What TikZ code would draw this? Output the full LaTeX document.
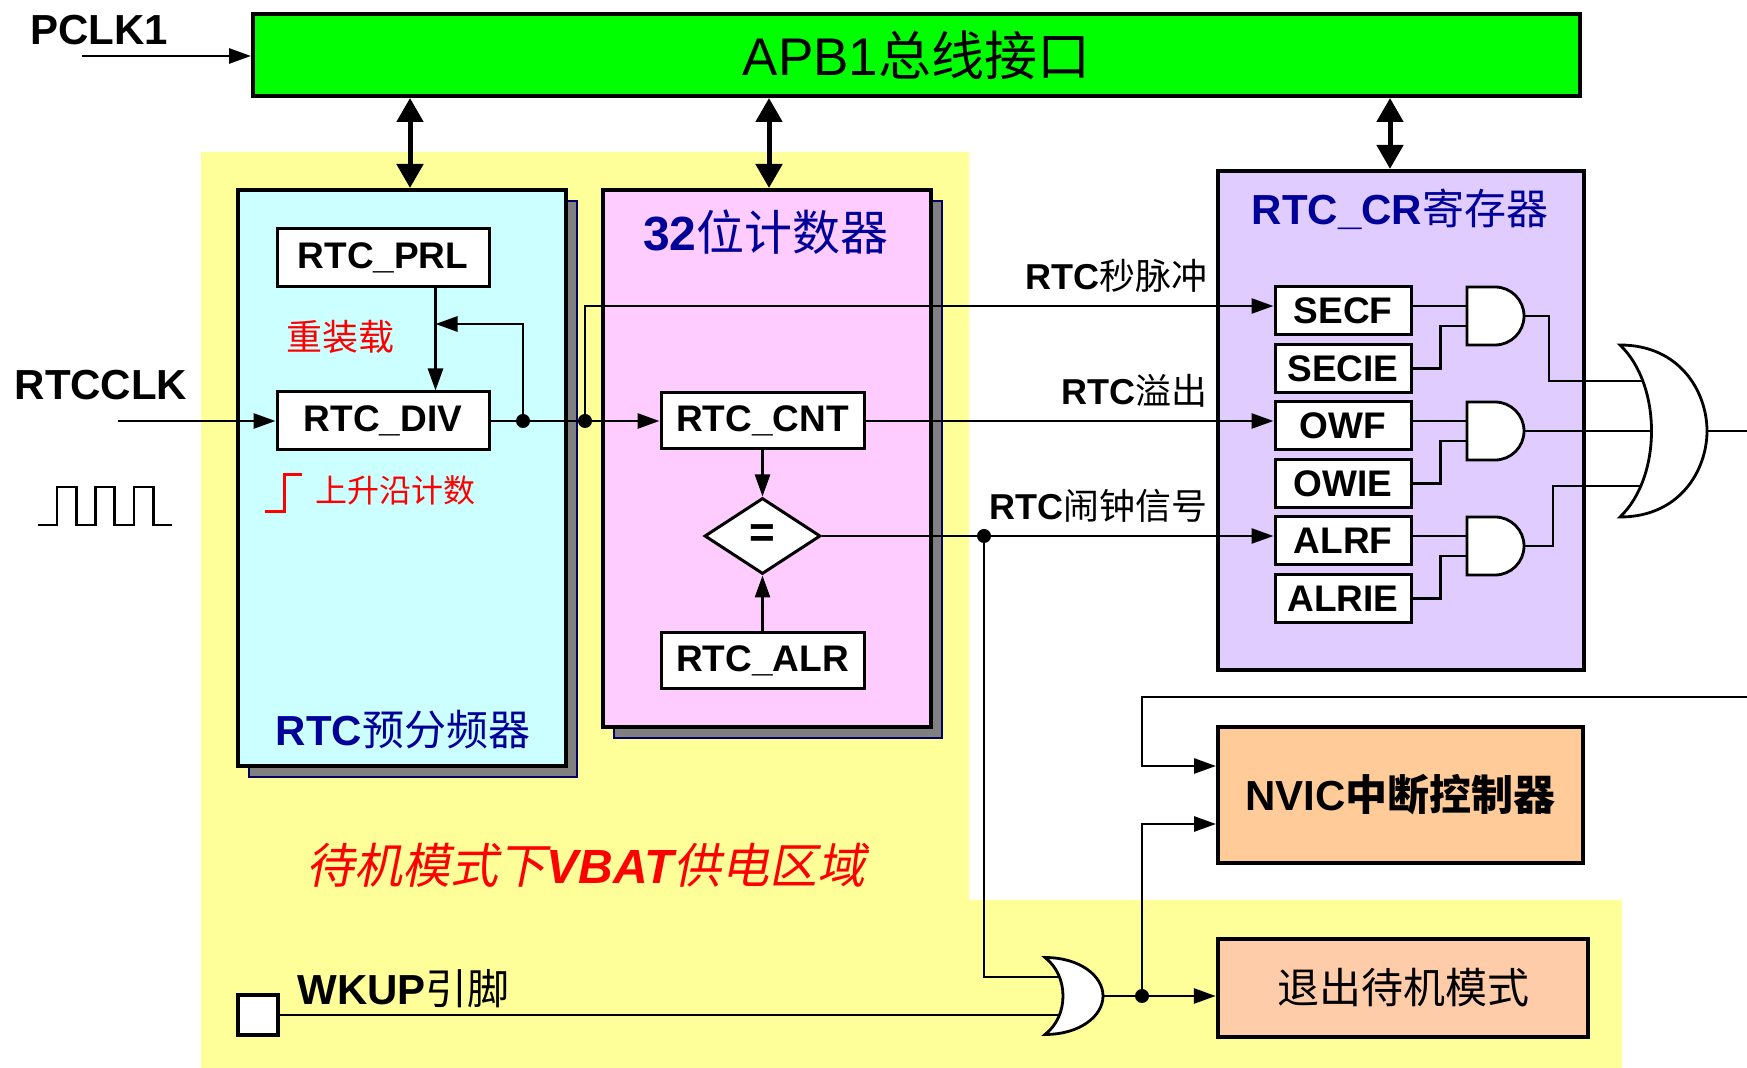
\documentclass[tikz,border=0pt]{standalone}
\usepackage{fontspec}
\setmainfont{Liberation Sans}
\newfontfamily\cjk{Noto Sans CJK SC}
\newfontfamily\cjkit{Noto Sans CJK SC}[FakeSlant=0.2]
\usetikzlibrary{positioning,shapes.geometric,arrows.meta,shadows}
\newcommand{\zhtext}[1]{{\cjk\mdseries #1}}
\newcommand{\zhbold}[1]{{\cjk\bfseries #1}}

\definecolor{vbatyellow}{RGB}{255,255,153}
\definecolor{buscolor}{RGB}{0,255,0}
\definecolor{prescfill}{RGB}{204,255,255}
\definecolor{cntfill}{RGB}{255,204,255}
\definecolor{crfill}{RGB}{224,204,255}
\definecolor{nvicfill}{RGB}{255,204,153}
\definecolor{exitfill}{RGB}{255,204,170}
\definecolor{titleblue}{RGB}{0,0,153}
\definecolor{shadownavy}{RGB}{0,0,102}
\definecolor{shadowgray}{RGB}{128,128,128}

\begin{document}
\begin{tikzpicture}[x=0.5pt, y=-0.5pt,
    wire/.style={line width=1.4pt},
    arr/.style={wire, -{Triangle[length=11pt,width=7.5pt]}},
    bus/.style={line width=2.5pt, {Triangle[length=12pt,width=13pt]}-{Triangle[length=12pt,width=13pt]}},
    panel/.style={draw, line width=2pt, inner sep=0pt},
    boxshadow/.style={drop shadow={shadow xshift=5.5pt, shadow yshift=-5.5pt, fill=shadowgray, draw=shadownavy, line width=1pt, opacity=1}},
    regbox/.style={draw, fill=white, line width=1.5pt, minimum width=106pt, minimum height=29pt, inner sep=0pt, font=\fontsize{18.5}{20}\selectfont\bfseries},
    bitbox/.style={regbox, minimum width=68pt, minimum height=24pt},
    dot/.style={circle, fill, inner sep=0pt, minimum size=7pt},
    gate/.style={draw, fill=white, line width=1.4pt},
    paneltitle/.style={text=titleblue, inner sep=0pt, font=\fontsize{21}{24}\selectfont\bfseries},
    siglabel/.style={inner sep=0pt, font=\fontsize{18}{20}\selectfont\bfseries},
    pinlabel/.style={inner sep=0pt, font=\fontsize{21}{24}\selectfont\bfseries}]

  \useasboundingbox (0,0) rectangle (1747,1068);
  \fill[vbatyellow] (201,152) -- (969,152) -- (969,900) -- (1622,900) -- (1622,1068) -- (201,1068) -- cycle;

  \node[panel, fill=prescfill, boxshadow, minimum width=164pt, minimum height=288pt] (presc) at (402,478) {};
  \node[panel, fill=cntfill, boxshadow, minimum width=164pt, minimum height=268.75pt] (cnt32) at (767,458.75) {};
  \node[panel, fill=crfill, minimum width=183pt, minimum height=249.5pt] (crreg) at (1401,420.4) {};
  \node[panel, fill=nvicfill, minimum width=182.5pt, minimum height=68pt, font=\fontsize{21}{24}\selectfont\bfseries] (nvic) at (1400.5,795) {NVIC\zhbold{中断控制器}};
  \node[panel, fill=exitfill, minimum width=185.25pt, minimum height=48.85pt, font=\fontsize{21}{24}\selectfont] (exitsb) at (1403,988) {\zhtext{退出待机模式}};
  \node[panel, fill=buscolor, minimum width=663.5pt, minimum height=41pt, font=\fontsize{26.5}{30}\selectfont] (apb) at (916.5,55) {APB1\zhtext{总线接口}};

  \node[pinlabel] (pclk) at (99,30) {PCLK1};
  \node[pinlabel] (rtcclk) at (101,385) {RTCCLK};
  \node[paneltitle] (prescname) at (403,730) {RTC\zhtext{预分频器}};
  \node[paneltitle, font=\fontsize{24}{26}\selectfont\bfseries] (cntname) at (766,232) {32\zhtext{位计数器}};
  \node[paneltitle] (crname) at (1400,209) {RTC\_CR\zhtext{寄存器}};

  \node[regbox] (prl) at (383,257.5) {RTC\_PRL};
  \node[regbox] (div) [below=51.25pt of prl] {RTC\_DIV};
  \node[regbox, minimum width=101.5pt, minimum height=28pt] (cnt) at (762.5,421) {RTC\_CNT};
  \node[diamond, draw, fill=white, line width=1.5pt, minimum width=58pt, minimum height=38pt, inner sep=0pt, font=\fontsize{22}{24}\selectfont\bfseries] (eq) at (762.5,536) {=};
  \node[regbox, minimum width=101.5pt, minimum height=28pt] (alr) at (762.5,661) {RTC\_ALR};

  \node[bitbox] (secf) at (1343,311) {SECF};
  \node[bitbox] (secie) [below=3.25pt of secf] {SECIE};
  \node[bitbox] (owf) [below=3.25pt of secie] {OWF};
  \node[bitbox] (owie) [below=3.25pt of owf] {OWIE};
  \node[bitbox] (alrf) [below=3.25pt of owie] {ALRF};
  \node[bitbox] (alrie) [below=3.25pt of alrf] {ALRIE};

  \node[text=red, inner sep=0pt, font=\fontsize{18}{20}\selectfont] (reloadname) at (340,337) {\zhtext{重装载}};
  \node[text=red, inner sep=0pt, font=\fontsize{16}{18}\selectfont, anchor=west] (edgename) at (315,490) {\zhtext{上升沿计数}};
  \draw[red, line width=1.5pt] (265,512) -- (284,512) -- (284,475) -- (302,475);
  \draw[wire] (38,525) \foreach \p in {57,95.5,134} { -- (\p,525) -- (\p,487) -- ++(19.3,0) -- ++(0,38) } -- (172,525);

  \node[siglabel, anchor=base east] (secname) at ([shift={(-33pt,10.75pt)}]secf.west) {RTC\zhtext{秒脉冲}};
  \node[siglabel, anchor=base east] (owname) at ([shift={(-33pt,10.75pt)}]owf.west) {RTC\zhtext{溢出}};
  \node[siglabel, anchor=base east] (alrname) at ([shift={(-33pt,10.75pt)}]alrf.west) {RTC\zhtext{闹钟信号}};

  \node[draw, fill=white, line width=2.2pt, minimum size=20pt, inner sep=0pt] (wkup) at (258,1015) {};
  \node[pinlabel, anchor=west] (wkupname) at (297,989) {WKUP\zhtext{引脚}};
  \node[text=red, inner sep=0pt, font=\fontsize{24}{28}\selectfont] (vbatname) at (586,865) {{\cjkit 待机模式下}{\bfseries\itshape VBAT}{\cjkit 供电区域}};

  \node[dot] (d1) at (523,421) {};
  \node[dot] (d2) at (585,421) {};
  \node[dot] (d3) at (984,536) {};
  \node[dot] (d4) at (1142,996) {};

  \coordinate (pclkin) at (82,56);
  \coordinate (clkin) at (118,421);
  \coordinate (reload) at (435.5,324);
  \coordinate (busa) at ([xshift=4pt]presc.north);
  \coordinate (busb) at ([xshift=1pt]cnt32.north);
  \coordinate (busc) at ([xshift=-5.5pt]crreg.north);
  \coordinate (g1) at ([shift={(27.25pt,-2.5pt)}]secf.east);
  \coordinate (g2) at ([shift={(27.25pt,-2.5pt)}]owf.east);
  \coordinate (g3) at ([shift={(27.25pt,-2.5pt)}]alrf.east);
  \coordinate (orb) at (1620,431);
  \coordinate (orend) at (1747,431);
  \coordinate (irqin) at (1747,697);
  \coordinate (orw) at (1045,996);
  \coordinate (orwup) at ([shift={(10pt,9.5pt)}]orw);
  \coordinate (orwin) at ([shift={(10pt,-9.5pt)}]orw);

  \draw[arr] (pclkin) -- (pclkin -| apb.west);
  \draw[bus] (busa |- apb.south) -- (busa);
  \draw[bus] (busb |- apb.south) -- (busb);
  \draw[bus] (busc |- apb.south) -- (busc);

  \draw[arr] (clkin) -- (div);
  \draw[arr] ([xshift=26.25pt]prl.south) -- ([xshift=26.25pt]div.north);
  \draw[arr] (d1) |- (reload);
  \draw[wire] (div) -- (d1) -- (d2);
  \draw[arr] (d2) -- (cnt);
  \draw[arr] (d2) |- ([yshift=2.5pt]secf.west);
  \draw[arr] (cnt) -- ([yshift=2.5pt]owf.west);
  \draw[arr] (cnt) -- (eq);
  \draw[arr] (alr) -- (eq);
  \draw[wire] (eq) -- (d3);
  \draw[arr] (d3) -- ([yshift=2.5pt]alrf.west);

  \foreach \f/\e/\g in {secf/secie/g1, owf/owie/g2, alrf/alrie/g3} {
    \draw[wire] ([yshift=2.5pt]\f.east) -- ([yshift=5pt]\g);
    \draw[wire] (\e.east) -- ++(14pt,0) |- ([yshift=-5pt]\g);
  }
  \draw[wire] ([xshift=28.5pt]g1) -- ++(12.5pt,0) |- ([shift={(16pt,25pt)}]orb);
  \draw[wire] ([xshift=28.5pt]g2) -- ([xshift=18pt]orb);
  \draw[wire] ([xshift=28.5pt]g3) -- ++(14.5pt,0) |- ([shift={(16pt,-27.5pt)}]orb);
  \draw[wire] ([xshift=43.5pt]orb) -- (orend);

  \draw[wire] (d3) |- (orwup);
  \draw[wire] (wkup) -- (orwin);
  \draw[wire] ([xshift=29pt]orw) -- (d4);
  \draw[arr] (d4) -- (d4 -| exitsb.west);
  \draw[arr] (d4) |- ([yshift=-14.5pt]nvic.west);
  \draw[arr] (irqin) -- (irqin -| d4) |- ([yshift=14.5pt]nvic.west);

  \foreach \g in {g1,g2,g3}
    \draw[gate] ([yshift=14.5pt]\g) -- ++(14pt,0) arc[start angle=90, end angle=-90, radius=14.5pt] -- ([yshift=-14.5pt]\g) -- cycle;
  \begin{scope}[shift={(orb)}]
    \draw[gate] (0,-86) .. controls (42,-46) and (42,46) .. (0,86) .. controls (60,86) and (87,39) .. (87,0) .. controls (87,-39) and (60,-86) .. (0,-86) -- cycle;
  \end{scope}
  \begin{scope}[shift={(orw)}]
    \draw[gate] (0,-38.5) .. controls (24,-20) and (24,20) .. (0,38.5) .. controls (35,38.5) and (58,20) .. (58,0) .. controls (58,-20) and (35,-38.5) .. (0,-38.5) -- cycle;
  \end{scope}
\end{tikzpicture}
\end{document}
